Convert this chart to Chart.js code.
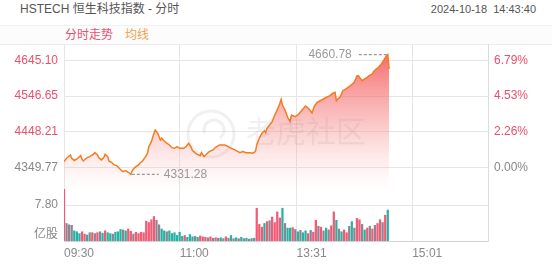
<!DOCTYPE html>
<html>
<head>
<meta charset="utf-8">
<script src="https://cdn.jsdelivr.net/npm/chart.js@4.4.1/dist/chart.umd.min.js"></script>
<style>
  body { margin: 0; background: #fff; font-family: "Liberation Sans", Arial, "Noto Sans CJK SC", sans-serif; }
  #wrap { position: relative; width: 552px; height: 265px; overflow: hidden; }
  .title { position: absolute; left: 20px; top: 2px; font-size: 12px; line-height: 14px; color: #555; }
  .time { position: absolute; right: 16px; top: 2px; font-size: 11px; line-height: 14px; color: #555; white-space: pre; }
  .strip { position: absolute; left: 0; top: 25px; width: 552px; height: 18px; border-top: 1px solid #f1f1f1; border-bottom: 1px solid #ececec; background: #fcfcfd; }
  .strip span { position: absolute; top: 2px; font-size: 12px; line-height: 14px; }
  canvas { position: absolute; left: 0; }
</style>
</head>
<body>
<div id="wrap">
  <div class="title">HSTECH 恒生科技指数 - 分时</div>
  <div class="time">2024-10-18  14:43:40</div>
  <div class="strip"><span style="left:65px;color:#e9506b">分时走势</span><span style="left:125px;color:#f2a04c">均线</span></div>
  <canvas id="pc" width="552" height="145" style="top:44px"></canvas>
  <canvas id="vc" width="552" height="76" style="top:189px"></canvas>
</div>
<script>
// previous close and axis ticks
const prevClose = 4349.77;
const priceTicks = [4349.77, 4448.21, 4546.65, 4645.10];
const timeTicks = [0, 90, 181, 271]; // trading minutes from 09:30 (lunch skipped)
const timeLabels = ["09:30", "11:00", "13:31", "15:01"];
const volTicks = [1.3, 7.8];
const volTickLabels = ["亿股", "7.80"];

// intraday price, minute index -> price
const priceMin = [0, 2, 5, 6, 8, 10, 13, 14, 15, 18, 20, 23, 24, 26, 27, 29, 31, 32, 34, 35,
  37, 39, 41, 43, 45, 46, 48, 50, 52, 53, 55, 58, 59, 61, 63, 65, 66, 68, 70, 71,
  73, 74, 75, 76, 78, 80, 82, 84, 86, 88, 90, 93, 95, 97, 99, 100, 103, 106, 107, 109,
  111, 113, 116, 118, 121, 125, 128, 130, 133, 137, 139, 142, 145, 147, 149, 150, 152, 154, 156, 157,
  158, 160, 162, 164, 166, 168, 169, 170, 172, 173, 174, 176, 177, 180, 182, 184, 186, 188, 190, 193,
  195, 197, 199, 202, 204, 207, 209, 211, 212, 213, 215, 217, 220, 223, 226, 228, 229, 232, 234, 236,
  237, 240, 241, 243, 245, 247, 249, 251, 252, 253];
const prices = [4366.3, 4375.6, 4384.7, 4375.6, 4369.0, 4373.7, 4382.8, 4372.9, 4368.2, 4377.3,
  4380.0, 4386.6, 4391.0, 4384.7, 4377.3, 4371.0, 4377.3, 4386.6, 4380.0, 4368.2,
  4364.6, 4357.2, 4355.3, 4348.1, 4340.7, 4338.8, 4341.5, 4337.1, 4331.28, 4340.7,
  4349.8, 4357.2, 4361.9, 4368.2, 4377.3, 4389.4, 4407.5, 4421.3, 4444.4, 4453.5,
  4444.4, 4435.0, 4426.0, 4430.6, 4423.2, 4416.9, 4412.2, 4404.8, 4403.1, 4407.5,
  4403.1, 4403.1, 4407.5, 4416.9, 4405.9, 4396.5, 4387.5, 4382.8, 4391.0, 4380.0,
  4387.5, 4393.8, 4398.5, 4405.9, 4412.2, 4412.2, 4407.5, 4403.1, 4398.5, 4391.0,
  4393.8, 4391.0, 4391.0, 4389.4, 4393.8, 4412.2, 4430.6, 4444.4, 4451.5, 4446.0,
  4458.1, 4467.2, 4476.3, 4494.7, 4508.5, 4526.9, 4537.9, 4522.2, 4508.5, 4499.4,
  4488.4, 4476.3, 4494.7, 4490.0, 4494.7, 4503.0, 4511.2, 4519.5, 4514.0, 4500.2,
  4519.5, 4529.6, 4533.2, 4538.7, 4542.8, 4547.8, 4553.8, 4557.1, 4534.0, 4538.7,
  4544.2, 4561.5, 4567.6, 4575.3, 4585.5, 4602.0, 4602.8, 4589.0, 4593.7, 4597.8,
  4602.0, 4607.5, 4614.3, 4621.2, 4626.7, 4635.0, 4646.0, 4657.8, 4660.78, 4621.2];

// volume (亿股), one bar per 2 minutes from 09:30
const volumes = [11.2, 3.8, 3.5, 3.4, 2.2, 2.0, 1.6, 2.0, 1.5, 1.3,
  1.8, 1.8, 1.6, 1.8, 2.0, 1.7, 2.2, 1.8, 1.6, 1.5,
  1.9, 2.0, 2.5, 2.4, 2.2, 2.6, 2.1, 1.5, 1.9, 1.6,
  1.9, 1.8, 4.3, 4.0, 4.6, 5.3, 4.5, 3.5, 2.6, 2.2,
  2.0, 2.2, 1.6, 1.8, 1.2, 1.9, 1.0, 1.2, 0.8, 1.4,
  0.9, 1.0, 0.8, 1.1, 0.9, 0.8, 0.7, 0.9, 0.6, 0.7,
  0.6, 0.7, 0.5, 0.9, 0.6, 1.2, 0.5, 0.7, 0.5, 0.8,
  0.5, 0.6, 0.4, 0.5, 0.6, 7.1, 3.6, 3.0, 3.8, 4.2,
  4.4, 5.2, 4.0, 6.3, 5.0, 7.1, 3.8, 2.8, 2.8, 2.9,
  2.5, 2.0, 2.3, 1.8, 2.2, 1.6, 2.3, 1.9, 4.5, 3.2,
  3.0, 2.2, 2.8, 2.4, 3.3, 6.3, 4.5, 2.6, 2.0, 2.4,
  1.8, 3.2, 4.2, 2.8, 4.9, 4.6, 3.6, 2.4, 2.8, 3.2,
  2.6, 3.4, 3.8, 4.6, 4.0, 5.6, 6.7];
// r = up, g = down, n = flat
const volDir = ("rnnngggrrg" + "nrnrngrggn" + "gggngrrnrr" + "rrrrrrnngg" + "nggggggrgg" +
  "gngrrrnrnr" + "ngnrngngng" + "ngngnrrrgr" + "nrrrrgnggr" + "ngnggrnrrn" +
  "rngnrrgngr" + "rngnrrngrn" + "rnrrnrg").split("");

const red = "#e9506b";
const gray = "#888";
const gridColor = "#e6e6e6";
const dirColor = { r: "#f25a76", g: "#26b3a5", n: "#8d8590" };
const fontFamily = '"Liberation Sans", Arial, "Noto Sans CJK SC", sans-serif';
Chart.defaults.font.family = fontFamily;
Chart.defaults.font.size = 12;

function fixWidth(s) {
  s.width = 64;
  s.paddingTop = 0;
  s.paddingBottom = 0;
}
function setTicks(list) {
  return function (s) {
    s.ticks = list.map(function (v) { return { value: v }; });
  };
}

// watermark + high/low markers
const marks = {
  id: "marks",
  afterDatasetsDraw(chart) {
    const c = chart.ctx;
    const x = chart.scales.x;
    const y = chart.scales.y;
    c.save();
    c.strokeStyle = "rgba(140,140,140,0.13)";
    c.lineWidth = 3;
    c.beginPath();
    c.arc(211, 90, 23, 0, Math.PI * 2);
    c.stroke();
    c.beginPath();
    c.arc(214, 86, 10, Math.PI * 0.9, Math.PI * 2.3);
    c.stroke();
    c.fillStyle = "rgba(140,140,140,0.13)";
    c.font = "30px " + fontFamily;
    c.textBaseline = "middle";
    c.fillText("老虎社区", 246, 90);

    const hi = prices.indexOf(Math.max.apply(null, prices));
    const lo = prices.indexOf(Math.min.apply(null, prices));
    c.strokeStyle = "#999";
    c.fillStyle = "#999";
    c.lineWidth = 1.3;
    c.setLineDash([3, 2]);
    c.font = "12px " + fontFamily;
    let px = x.getPixelForValue(priceMin[lo]);
    let py = y.getPixelForValue(prices[lo]);
    c.beginPath();
    c.moveTo(px + 1, py);
    c.lineTo(px + 28, py);
    c.stroke();
    c.textAlign = "left";
    c.fillText(prices[lo].toFixed(2), px + 33, py);
    px = x.getPixelForValue(priceMin[hi]);
    py = y.getPixelForValue(prices[hi]);
    c.beginPath();
    c.moveTo(px - 1, py);
    c.lineTo(px - 30, py);
    c.stroke();
    c.textAlign = "right";
    c.fillText(prices[hi].toFixed(2), px - 36, py);
    c.restore();
  },
};

const priceChart = new Chart(document.getElementById("pc"), {
  type: "line",
  data: {
    datasets: [
      {
        data: priceMin.map(function (m, i) { return { x: m, y: prices[i] }; }),
        borderColor: "#f47b20",
        borderWidth: 1.5,
        pointRadius: 0,
        tension: 0,
        fill: "start",
        backgroundColor: function (ctx) {
          const area = ctx.chart.chartArea;
          if (!area) return "rgba(0,0,0,0)";
          const g = ctx.chart.ctx.createLinearGradient(0, area.top, 0, area.bottom);
          g.addColorStop(0, "rgba(243,84,84,0.95)");
          g.addColorStop(0.55, "rgba(247,130,130,0.45)");
          g.addColorStop(1, "rgba(252,190,190,0.02)");
          return g;
        },
      },
    ],
  },
  options: {
    responsive: false,
    animation: false,
    devicePixelRatio: 1,
    layout: { padding: 0 },
    plugins: { legend: { display: false }, tooltip: { enabled: false } },
    scales: {
      x: {
        type: "linear",
        min: 0,
        max: 330,
        afterBuildTicks: setTicks(timeTicks),
        ticks: { display: false },
        grid: { color: gridColor, drawTicks: false },
        border: { display: false },
        afterFit: function (s) { s.height = 0; s.paddingLeft = 0; s.paddingRight = 0; },
      },
      y: {
        position: "left",
        min: 4291,
        max: 4690,
        afterBuildTicks: setTicks(priceTicks),
        ticks: {
          padding: 6,
          color: function (ctx) { return ctx.tick.value > prevClose + 0.001 ? red : gray; },
          callback: function (v) { return v.toFixed(2); },
        },
        grid: { color: gridColor, drawTicks: false },
        border: { color: gridColor },
        afterFit: fixWidth,
      },
      y2: {
        type: "linear",
        position: "right",
        min: 4291,
        max: 4690,
        afterBuildTicks: setTicks(priceTicks),
        ticks: {
          padding: 6,
          color: function (ctx) { return ctx.tick.value > prevClose + 0.001 ? red : gray; },
          callback: function (v) { return ((v / prevClose - 1) * 100).toFixed(2) + "%"; },
        },
        grid: { display: false, drawTicks: false },
        border: { color: "#dcdcdc" },
        afterFit: fixWidth,
      },
    },
  },
  plugins: [marks],
});

const volChart = new Chart(document.getElementById("vc"), {
  type: "bar",
  data: {
    datasets: [
      {
        data: volumes.map(function (v, i) { return { x: i * 2, y: v }; }),
        backgroundColor: volDir.map(function (d) { return dirColor[d]; }),
        borderWidth: 0,
        barThickness: 1.6,
      },
    ],
  },
  options: {
    responsive: false,
    animation: false,
    devicePixelRatio: 1,
    layout: { padding: 0 },
    plugins: { legend: { display: false }, tooltip: { enabled: false } },
    scales: {
      x: {
        type: "linear",
        min: 0,
        max: 330,
        offset: false,
        afterBuildTicks: setTicks(timeTicks),
        ticks: {
          align: "start",
          padding: 5,
          color: gray,
          maxRotation: 0,
          autoSkip: false,
          callback: function (v, i) { return timeLabels[i]; },
        },
        grid: { color: gridColor, drawTicks: false, offset: false },
        border: { color: "#d2d2d2" },
        afterFit: function (s) { s.height = 24; s.paddingLeft = 0; s.paddingRight = 0; },
      },
      y: {
        position: "left",
        min: 0,
        max: 11.27,
        afterBuildTicks: setTicks(volTicks),
        ticks: {
          padding: 6,
          color: gray,
          callback: function (v, i) { return volTickLabels[i]; },
        },
        grid: {
          color: function (ctx) { return ctx.tick && ctx.tick.value === 7.8 ? gridColor : "rgba(0,0,0,0)"; },
          drawTicks: false,
        },
        border: { color: gridColor },
        afterFit: fixWidth,
      },
      yr: {
        type: "linear",
        position: "right",
        min: 0,
        max: 1,
        ticks: { display: false },
        grid: { display: false, drawTicks: false },
        border: { color: "#dcdcdc" },
        afterFit: fixWidth,
      },
    },
  },
});
</script>
</body>
</html>
